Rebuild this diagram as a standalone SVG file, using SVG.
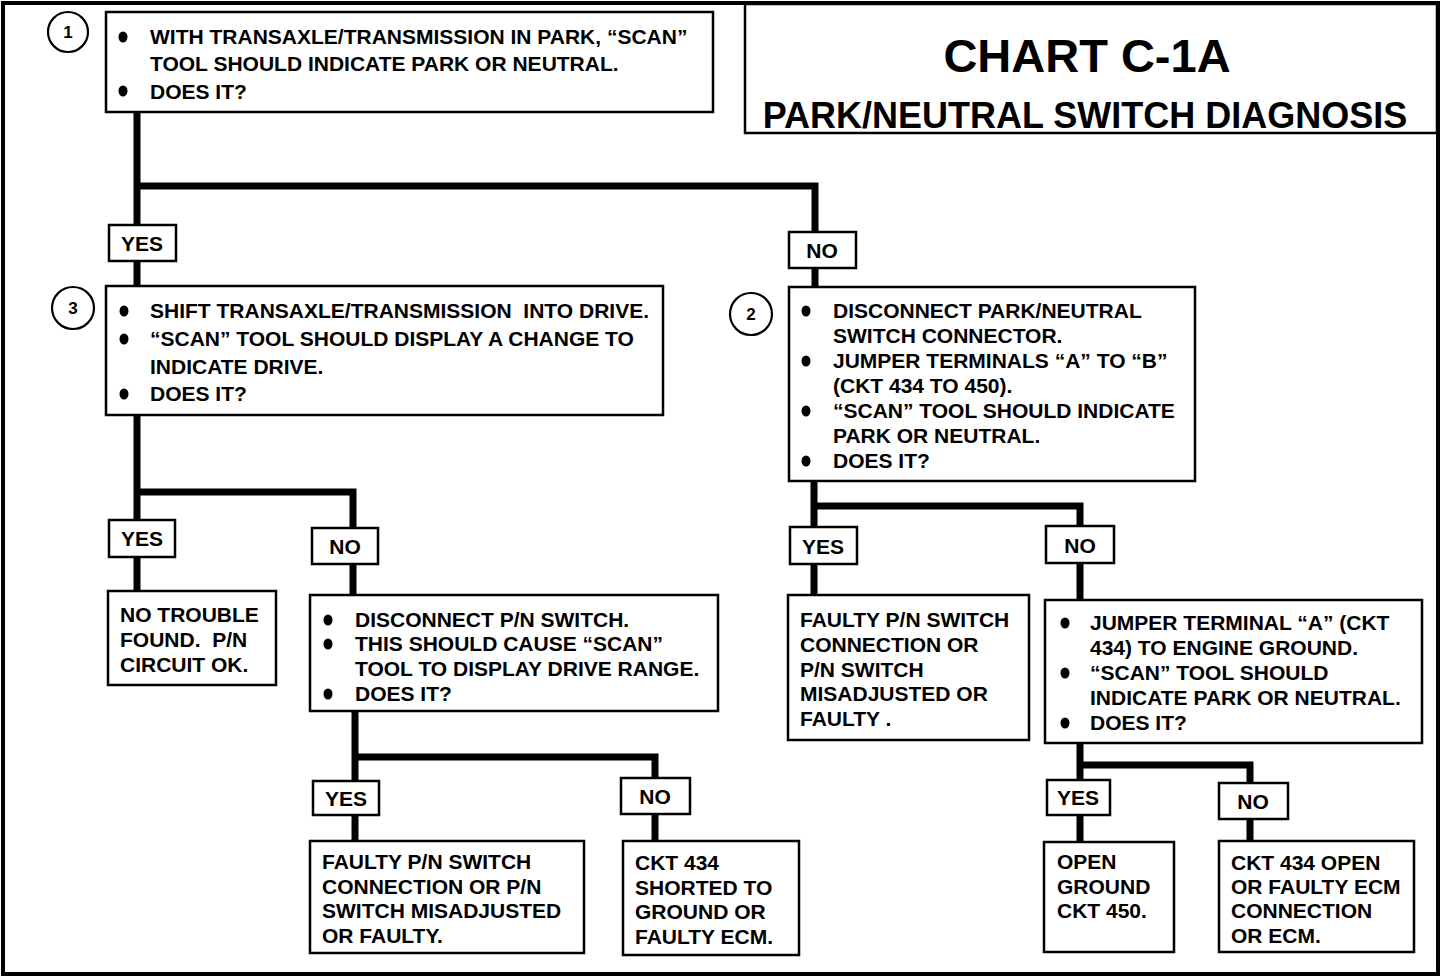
<svg xmlns="http://www.w3.org/2000/svg" width="1456" height="980" viewBox="0 0 1456 980">
<style>
.box{fill:#fff;stroke:#000;stroke-width:2.5}
.lbl{fill:#fff;stroke:#000;stroke-width:2.5}
.t{font-family:"Liberation Sans",Arial,sans-serif;font-weight:bold;font-size:21px;fill:#000;white-space:pre}
.c{text-anchor:middle}
.num{font-family:"Liberation Sans",Arial,sans-serif;font-weight:bold;font-size:17px;fill:#000;text-anchor:middle}
.circ{fill:#fff;stroke:#000;stroke-width:2.2}
.ln{fill:none;stroke:#000;stroke-width:7;stroke-linejoin:miter;stroke-linecap:butt}
</style>
<defs>
<ellipse id="bul" cx="0" cy="0" rx="4.5" ry="5.5" fill="#000"/>
</defs>
<rect x="0" y="0" width="1456" height="980" fill="#fff"/>
<rect x="3" y="3" width="1435" height="971" fill="none" stroke="#000" stroke-width="4"/>

<g id="connectors">
<path class="ln" d="M137 112 V287 M137 186 H815 V288"/>
<path class="ln" d="M137 415 V592 M137 492 H353 V596"/>
<path class="ln" d="M355 711 V842 M355 757 H655 V843"/>
<path class="ln" d="M814 481 V596 M814 506 H1080 V600"/>
<path class="ln" d="M1080 743 V843 M1080 765 H1250 V843"/>
</g>

<g id="title">
<rect x="745" y="4" width="692" height="129" fill="#fff" stroke="#000" stroke-width="2.5"/>
<text class="t c" x="1087" y="72" style="font-size:47px">CHART C-1A</text>
<text class="t c" x="1085" y="128" style="font-size:36px">PARK/NEUTRAL SWITCH DIAGNOSIS</text>
</g>

<g id="step1">
<circle class="circ" cx="68" cy="32" r="20"/>
<text class="num" x="68" y="38">1</text>
<rect class="box" x="106" y="12" width="607" height="100"/>
<use href="#bul" x="123" y="37"/>
<text class="t" x="150" y="44">WITH TRANSAXLE/TRANSMISSION IN PARK, “SCAN”</text>
<text class="t" x="150" y="71">TOOL SHOULD INDICATE PARK OR NEUTRAL.</text>
<use href="#bul" x="123" y="91"/>
<text class="t" x="150" y="99">DOES IT?</text>
</g>

<g id="yes1"><rect class="lbl" x="109" y="225" width="67" height="36"/><text class="t c" x="142" y="251">YES</text></g>
<g id="no1"><rect class="lbl" x="789" y="232" width="67" height="36"/><text class="t c" x="822" y="258">NO</text></g>

<g id="step3">
<circle class="circ" cx="73" cy="308" r="21"/>
<text class="num" x="73" y="314">3</text>
<rect class="box" x="106" y="286" width="557" height="129"/>
<use href="#bul" x="124" y="311"/>
<text class="t" x="150" y="318">SHIFT TRANSAXLE/TRANSMISSION  INTO DRIVE.</text>
<use href="#bul" x="124" y="339"/>
<text class="t" x="150" y="346">“SCAN” TOOL SHOULD DISPLAY A CHANGE TO</text>
<text class="t" x="150" y="374">INDICATE DRIVE.</text>
<use href="#bul" x="124" y="394"/>
<text class="t" x="150" y="401">DOES IT?</text>
</g>

<g id="step2">
<circle class="circ" cx="751" cy="314" r="21"/>
<text class="num" x="751" y="320">2</text>
<rect class="box" x="789" y="287" width="406" height="194"/>
<use href="#bul" x="806" y="311"/>
<text class="t" x="833" y="318">DISCONNECT PARK/NEUTRAL</text>
<text class="t" x="833" y="343">SWITCH CONNECTOR.</text>
<use href="#bul" x="806" y="361"/>
<text class="t" x="833" y="368">JUMPER TERMINALS “A” TO “B”</text>
<text class="t" x="833" y="393">(CKT 434 TO 450).</text>
<use href="#bul" x="806" y="411"/>
<text class="t" x="833" y="418">“SCAN” TOOL SHOULD INDICATE</text>
<text class="t" x="833" y="443">PARK OR NEUTRAL.</text>
<use href="#bul" x="806" y="461"/>
<text class="t" x="833" y="468">DOES IT?</text>
</g>

<g id="yes2"><rect class="lbl" x="109" y="520" width="66" height="37"/><text class="t c" x="142" y="546">YES</text></g>
<g id="no2"><rect class="lbl" x="312" y="528" width="66" height="36"/><text class="t c" x="345" y="554">NO</text></g>
<g id="yes4"><rect class="lbl" x="790" y="527" width="67" height="37"/><text class="t c" x="823" y="554">YES</text></g>
<g id="no4"><rect class="lbl" x="1046" y="526" width="68" height="37"/><text class="t c" x="1080" y="553">NO</text></g>

<g id="noTrouble">
<rect class="box" x="108" y="591" width="168" height="94"/>
<text class="t" x="120" y="622">NO TROUBLE</text>
<text class="t" x="120" y="647">FOUND.  P/N</text>
<text class="t" x="120" y="672">CIRCUIT OK.</text>
</g>

<g id="step4">
<rect class="box" x="310" y="595" width="408" height="116"/>
<use href="#bul" x="328" y="620"/>
<text class="t" x="355" y="627">DISCONNECT P/N SWITCH.</text>
<use href="#bul" x="328" y="644"/>
<text class="t" x="355" y="651">THIS SHOULD CAUSE “SCAN”</text>
<text class="t" x="355" y="676">TOOL TO DISPLAY DRIVE RANGE.</text>
<use href="#bul" x="328" y="694"/>
<text class="t" x="355" y="701">DOES IT?</text>
</g>

<g id="faulty2">
<rect class="box" x="788" y="595" width="241" height="145"/>
<text class="t" x="800" y="627">FAULTY P/N SWITCH</text>
<text class="t" x="800" y="652">CONNECTION OR</text>
<text class="t" x="800" y="677">P/N SWITCH</text>
<text class="t" x="800" y="701">MISADJUSTED OR</text>
<text class="t" x="800" y="726">FAULTY .</text>
</g>

<g id="step5">
<rect class="box" x="1045" y="600" width="377" height="143"/>
<use href="#bul" x="1065" y="623"/>
<text class="t" x="1090" y="630">JUMPER TERMINAL “A” (CKT</text>
<text class="t" x="1090" y="655">434) TO ENGINE GROUND.</text>
<use href="#bul" x="1065" y="673"/>
<text class="t" x="1090" y="680">“SCAN” TOOL SHOULD</text>
<text class="t" x="1090" y="705">INDICATE PARK OR NEUTRAL.</text>
<use href="#bul" x="1065" y="723"/>
<text class="t" x="1090" y="730">DOES IT?</text>
</g>

<g id="yes3"><rect class="lbl" x="313" y="781" width="66" height="34"/><text class="t c" x="346" y="806">YES</text></g>
<g id="no3"><rect class="lbl" x="621" y="778" width="69" height="36"/><text class="t c" x="655" y="804">NO</text></g>
<g id="yes5"><rect class="lbl" x="1047" y="780" width="63" height="35"/><text class="t c" x="1078" y="805">YES</text></g>
<g id="no5"><rect class="lbl" x="1219" y="783" width="69" height="36"/><text class="t c" x="1253" y="809">NO</text></g>

<g id="faulty1">
<rect class="box" x="310" y="841" width="274" height="112"/>
<text class="t" x="322" y="869">FAULTY P/N SWITCH</text>
<text class="t" x="322" y="894">CONNECTION OR P/N</text>
<text class="t" x="322" y="918">SWITCH MISADJUSTED</text>
<text class="t" x="322" y="943">OR FAULTY.</text>
</g>

<g id="ckt434short">
<rect class="box" x="623" y="841" width="176" height="114"/>
<text class="t" x="635" y="870">CKT 434</text>
<text class="t" x="635" y="895">SHORTED TO</text>
<text class="t" x="635" y="919">GROUND OR</text>
<text class="t" x="635" y="944">FAULTY ECM.</text>
</g>

<g id="openGround">
<rect class="box" x="1044" y="842" width="130" height="110"/>
<text class="t" x="1057" y="869">OPEN</text>
<text class="t" x="1057" y="894">GROUND</text>
<text class="t" x="1057" y="918">CKT 450.</text>
</g>

<g id="ckt434open">
<rect class="box" x="1219" y="841" width="195" height="111"/>
<text class="t" x="1231" y="870">CKT 434 OPEN</text>
<text class="t" x="1231" y="894">OR FAULTY ECM</text>
<text class="t" x="1231" y="918">CONNECTION</text>
<text class="t" x="1231" y="943">OR ECM.</text>
</g>
</svg>
